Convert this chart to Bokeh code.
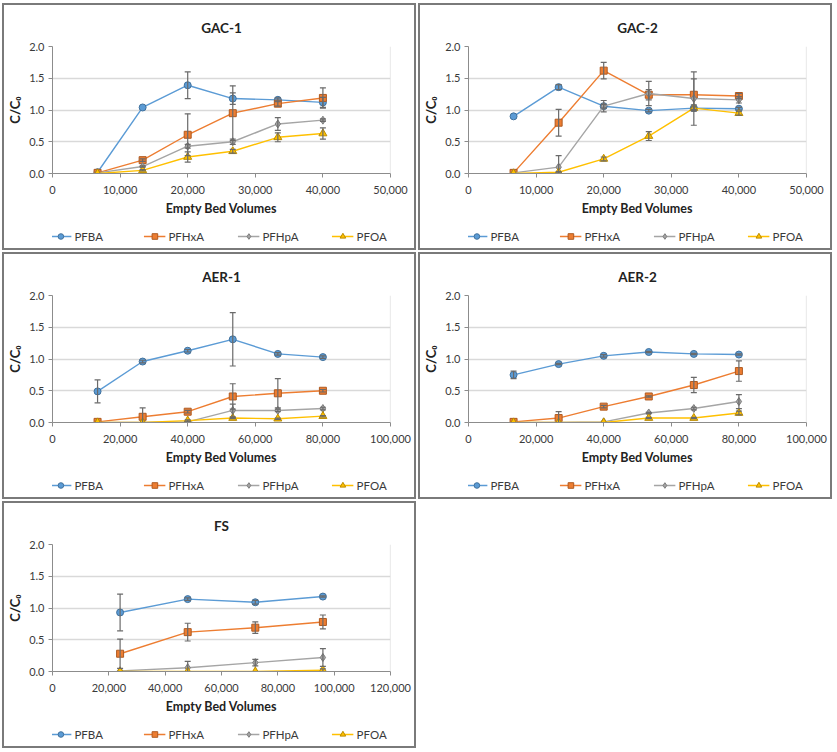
from bokeh.plotting import figure
from bokeh.models import (Range1d, FixedTicker, NumeralTickFormatter, Legend, LegendItem,
                          Whisker, ColumnDataSource, Span, TeeHead)
from bokeh.layouts import column, row
from bokeh.embed import file_html
from bokeh.resources import INLINE

SERIES = ["PFBA", "PFHxA", "PFHpA", "PFOA"]
Y_TICKS = [0.0, 0.5, 1.0, 1.5, 2.0]

GAC_EBV = [6667, 13333, 20000, 26667, 33333, 40000]
AER_EBV = [13333, 26667, 40000, 53333, 66667, 80000]
FS_EBV = [24000, 48000, 72000, 96000]

# GAC-1
GAC1_PFBA = [0.02, 1.04, 1.39, 1.18, 1.16, 1.12]
GAC1_PFBA_ERR = [0.0, 0.0, 0.21, 0.09, 0.03, 0.08]
GAC1_PFHXA = [0.01, 0.21, 0.61, 0.95, 1.10, 1.19]
GAC1_PFHXA_ERR = [0.0, 0.02, 0.33, 0.43, 0.04, 0.16]
GAC1_PFHPA = [0.01, 0.11, 0.43, 0.50, 0.78, 0.84]
GAC1_PFHPA_ERR = [0.0, 0.01, 0.03, 0.04, 0.10, 0.02]
GAC1_PFOA = [0.00, 0.05, 0.26, 0.35, 0.57, 0.63]
GAC1_PFOA_ERR = [0.0, 0.01, 0.08, 0.03, 0.07, 0.09]

# GAC-2
GAC2_PFBA = [0.90, 1.36, 1.06, 0.99, 1.03, 1.02]
GAC2_PFBA_ERR = [0.0, 0.04, 0.03, 0.02, 0.02, 0.02]
GAC2_PFHXA = [0.01, 0.80, 1.62, 1.24, 1.24, 1.22]
GAC2_PFHXA_ERR = [0.0, 0.21, 0.13, 0.08, 0.25, 0.04]
GAC2_PFHPA = [0.01, 0.10, 1.06, 1.26, 1.18, 1.16]
GAC2_PFHPA_ERR = [0.0, 0.18, 0.09, 0.19, 0.42, 0.05]
GAC2_PFOA = [0.00, 0.02, 0.23, 0.59, 1.03, 0.95]
GAC2_PFOA_ERR = [0.0, 0.01, 0.03, 0.07, 0.05, 0.03]

# AER-1
AER1_PFBA = [0.49, 0.96, 1.13, 1.31, 1.08, 1.03]
AER1_PFBA_ERR = [0.18, 0.02, 0.02, 0.42, 0.02, 0.02]
AER1_PFHXA = [0.01, 0.09, 0.17, 0.41, 0.46, 0.50]
AER1_PFHXA_ERR = [0.0, 0.14, 0.02, 0.20, 0.23, 0.02]
AER1_PFHPA = [0.00, 0.00, 0.01, 0.19, 0.19, 0.22]
AER1_PFHPA_ERR = [0.0, 0.0, 0.01, 0.10, 0.02, 0.02]
AER1_PFOA = [0.00, 0.00, 0.03, 0.07, 0.06, 0.10]
AER1_PFOA_ERR = [0.0, 0.0, 0.01, 0.01, 0.01, 0.01]

# AER-2
AER2_PFBA = [0.75, 0.92, 1.05, 1.11, 1.08, 1.07]
AER2_PFBA_ERR = [0.06, 0.01, 0.02, 0.01, 0.01, 0.01]
AER2_PFHXA = [0.01, 0.07, 0.25, 0.41, 0.59, 0.81]
AER2_PFHXA_ERR = [0.0, 0.10, 0.02, 0.01, 0.12, 0.16]
AER2_PFHPA = [0.00, 0.00, 0.01, 0.15, 0.22, 0.33]
AER2_PFHPA_ERR = [0.0, 0.0, 0.0, 0.01, 0.02, 0.11]
AER2_PFOA = [0.00, 0.00, 0.00, 0.07, 0.07, 0.15]
AER2_PFOA_ERR = [0.0, 0.0, 0.0, 0.01, 0.01, 0.03]

# FS
FS_PFBA = [0.93, 1.14, 1.09, 1.18]
FS_PFBA_ERR = [0.29, 0.02, 0.03, 0.01]
FS_PFHXA = [0.28, 0.62, 0.69, 0.78]
FS_PFHXA_ERR = [0.23, 0.14, 0.09, 0.11]
FS_PFHPA = [0.01, 0.06, 0.14, 0.22]
FS_PFHPA_ERR = [0.0, 0.10, 0.05, 0.14]
FS_PFOA = [0.00, 0.00, 0.00, 0.02]
FS_PFOA_ERR = [0.0, 0.0, 0.0, 0.02]

FONT = "Lato"
STYLE = {
    "PFBA": dict(marker="circle", size=7, fill="#5b9bd5", edge="#41719c"),
    "PFHxA": dict(marker="square", size=7, fill="#ed7d31", edge="#ae5a21"),
    "PFHpA": dict(marker="diamond", size=8, fill="#a5a5a5", edge="#7c7c7c"),
    "PFOA": dict(marker="triangle", size=8, fill="#ffc000", edge="#bc8c00"),
}
W = 410
H_CHART = 219
H_LEG = 24


def make_chart(title, xs, values, errs, xmax, xstep):
    p = figure(width=W, height=H_CHART, output_backend="svg", toolbar_location=None,
               x_range=Range1d(0, xmax), y_range=Range1d(0, 2.0),
               min_border_left=43, min_border_right=24, min_border_top=41,
               min_border_bottom=51, background_fill_color="white",
               border_fill_color="white", outline_line_color=None)
    p.title.text = title
    p.title.align = "center"
    p.title.text_font = FONT
    p.title.text_font_size = "13.5px"
    p.title.text_font_style = "bold"
    p.title.text_color = "#222222"
    p.title.standoff = 22

    p.xgrid.visible = False
    p.ygrid.grid_line_color = "#d9d9d9"
    p.ygrid.grid_line_width = 1.6
    p.ygrid.ticker = FixedTicker(ticks=Y_TICKS)

    p.add_layout(Span(location=xmax, dimension="height", line_color="#d9d9d9", line_width=1.2))

    xa = p.xaxis[0]
    xa.ticker = FixedTicker(ticks=list(range(0, xmax + 1, xstep)))
    xa.formatter = NumeralTickFormatter(format="0,0")
    xa.axis_line_color = "#8c8c8c"
    xa.major_tick_line_color = "#8c8c8c"
    xa.major_tick_out = 4
    xa.major_tick_in = 0
    xa.minor_tick_line_color = None
    xa.major_label_standoff = 8
    xa.major_label_text_font = FONT
    xa.major_label_text_font_size = "11px"
    xa.major_label_text_color = "#3a3a3a"
    xa.axis_label = "Empty Bed Volumes"
    xa.axis_label_text_font = FONT
    xa.axis_label_text_font_size = "12.5px"
    xa.axis_label_text_font_style = "bold"
    xa.axis_label_text_color = "#222222"
    xa.axis_label_standoff = 4

    ya = p.yaxis[0]
    ya.ticker = FixedTicker(ticks=Y_TICKS)
    ya.formatter = NumeralTickFormatter(format="0.0")
    ya.axis_line_color = "#8c8c8c"
    ya.major_tick_line_color = "#8c8c8c"
    ya.major_tick_out = 4
    ya.major_tick_in = 0
    ya.minor_tick_line_color = None
    ya.major_label_standoff = 4
    ya.major_label_text_font = FONT
    ya.major_label_text_font_size = "11px"
    ya.major_label_text_color = "#3a3a3a"
    ya.axis_label = "C/C\u2080"
    ya.axis_label_text_font = FONT
    ya.axis_label_text_font_size = "13px"
    ya.axis_label_text_font_style = "bold"
    ya.axis_label_text_color = "#222222"
    ya.axis_label_standoff = 3

    sources = []
    for name, ys, es in zip(SERIES, values, errs):
        st = STYLE[name]
        wx = [x for x, e in zip(xs, es) if e > 0]
        wu = [y + e for y, e in zip(ys, es) if e > 0]
        wl = [y - e for y, e in zip(ys, es) if e > 0]
        wsrc = ColumnDataSource(dict(x=wx, upper=wu, lower=wl))
        w = Whisker(source=wsrc, base="x", upper="upper", lower="lower", dimension="height",
                    line_color="#6a6a6a", line_width=1.2, level="glyph",
                    upper_head=TeeHead(size=6, line_color="#6a6a6a", line_width=1.2),
                    lower_head=TeeHead(size=6, line_color="#6a6a6a", line_width=1.2))
        p.add_layout(w)
        src = ColumnDataSource(dict(x=xs, y=ys))
        sources.append(src)
        p.line("x", "y", source=src, line_color=st["fill"], line_width=1.4)
        p.scatter("x", "y", source=src, marker=st["marker"], size=st["size"],
                  fill_color=st["fill"], line_color=st["edge"], line_width=1)
    return p, sources


def make_legend(sources):
    # legend-only strip; its ranges keep the series data out of view
    lf = figure(width=W, height=H_LEG, output_backend="svg", toolbar_location=None,
                x_range=Range1d(-2, -1), y_range=Range1d(-2, -1),
                x_axis_type=None, y_axis_type=None,
                min_border_left=0, min_border_right=0, min_border_top=0,
                min_border_bottom=0, outline_line_color=None,
                background_fill_color="white", border_fill_color="white")
    items = []
    for name, src in zip(SERIES, sources):
        st = STYLE[name]
        ln = lf.line("x", "y", source=src, line_color=st["fill"], line_width=1.4)
        sc = lf.scatter("x", "y", source=src, marker=st["marker"], size=st["size"],
                        fill_color=st["fill"], line_color=st["edge"], line_width=1)
        items.append(LegendItem(label=name, renderers=[ln, sc]))
    legend = Legend(items=items, orientation="horizontal", location="center",
                    spacing=33, glyph_width=22, glyph_height=14, label_standoff=3,
                    label_width=36,
                    label_text_font=FONT, label_text_font_size="11.5px",
                    label_text_color="#3a3a3a", label_height=14,
                    padding=0, margin=0, border_line_color=None,
                    background_fill_alpha=0)
    lf.add_layout(legend)
    return lf


def make_panel(title, xs, values, errs, xmax, xstep):
    chart, sources = make_chart(title, xs, values, errs, xmax, xstep)
    return column(chart, make_legend(sources), spacing=0,
                  styles={"border": "2px solid #7a7a7a"})


p1 = make_panel("GAC-1", GAC_EBV,
                [GAC1_PFBA, GAC1_PFHXA, GAC1_PFHPA, GAC1_PFOA],
                [GAC1_PFBA_ERR, GAC1_PFHXA_ERR, GAC1_PFHPA_ERR, GAC1_PFOA_ERR], 50000, 10000)
p2 = make_panel("GAC-2", GAC_EBV,
                [GAC2_PFBA, GAC2_PFHXA, GAC2_PFHPA, GAC2_PFOA],
                [GAC2_PFBA_ERR, GAC2_PFHXA_ERR, GAC2_PFHPA_ERR, GAC2_PFOA_ERR], 50000, 10000)
p3 = make_panel("AER-1", AER_EBV,
                [AER1_PFBA, AER1_PFHXA, AER1_PFHPA, AER1_PFOA],
                [AER1_PFBA_ERR, AER1_PFHXA_ERR, AER1_PFHPA_ERR, AER1_PFOA_ERR], 100000, 20000)
p4 = make_panel("AER-2", AER_EBV,
                [AER2_PFBA, AER2_PFHXA, AER2_PFHPA, AER2_PFOA],
                [AER2_PFBA_ERR, AER2_PFHXA_ERR, AER2_PFHPA_ERR, AER2_PFOA_ERR], 100000, 20000)
p5 = make_panel("FS", FS_EBV,
                [FS_PFBA, FS_PFHXA, FS_PFHPA, FS_PFOA],
                [FS_PFBA_ERR, FS_PFHXA_ERR, FS_PFHPA_ERR, FS_PFOA_ERR], 120000, 20000)

layout = column(row(p1, p2, spacing=2), row(p3, p4, spacing=2), row(p5, spacing=2),
                spacing=2, margin=(3, 0, 0, 2))

open("out.html", "w").write(file_html(layout, INLINE))
